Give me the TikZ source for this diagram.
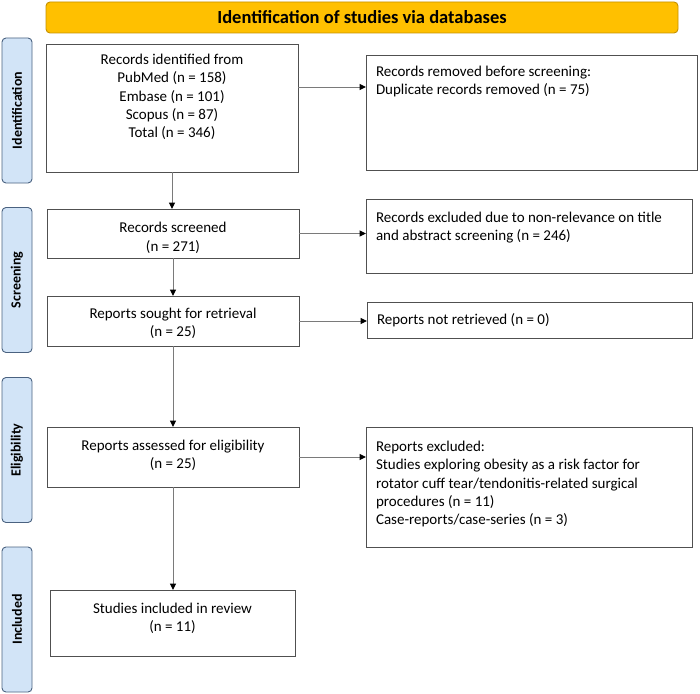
\documentclass[tikz,border=0pt]{standalone}
\usepackage{fontspec}
\setmainfont{Carlito}
\usetikzlibrary{arrows.meta}
\definecolor{banfill}{HTML}{FFC000}
\definecolor{bandraw}{HTML}{C49000}
\definecolor{sidefill}{HTML}{D2E4F7}
\definecolor{sidedraw}{HTML}{4A6280}
\definecolor{boxdraw}{HTML}{505050}
\definecolor{linecol}{HTML}{7A7A7A}
\newcommand{\bx}[4]{\parbox[b][#2][t]{#1}{\vspace*{#3}#4\par}}
\begin{document}
\begin{tikzpicture}[x=1pt,y=-1pt,
  every node/.style={font=\fontsize{15}{18.3}\selectfont},
  flowbox/.style={draw=boxdraw, line width=0.9pt, fill=white, inner sep=0pt, outer sep=0pt},
  sidebox/.style={draw=sidedraw, fill=sidefill, line width=0.9pt, rounded corners=4pt,
     minimum width=145pt, minimum height=30pt, inner sep=0pt,
     font=\fontsize{14}{17}\selectfont\bfseries},
  banner/.style={draw=bandraw, fill=banfill, line width=0.9pt, rounded corners=4pt,
     minimum width=632pt, minimum height=31pt, inner sep=0pt,
     font=\fontsize{18.5}{21}\selectfont\bfseries},
  arr/.style={draw=linecol, line width=1pt, -{Triangle[length=6.5pt,width=6pt,color=black]}}
]
\useasboundingbox (0,0) rectangle (700,693);

% banner
\node[banner] (ban) at (362,17.5) {Identification of studies via databases};

% side labels
\node[sidebox, rotate=90] (s1) at (17,110.5) {Identification};
\node[sidebox, rotate=90] (s2) at (17,280) {Screening};
\node[sidebox, rotate=90] (s3) at (17,450) {Eligibility};
\node[sidebox, rotate=90] (s4) at (17,619.5) {Included};

% left column
\node[flowbox, anchor=north west] (A) at (46,44)
  {\bx{252pt}{128pt}{7.7pt}{\centering\strut Records identified from\\PubMed (n = 158)\\Embase (n = 101)\\Scopus (n = 87)\\Total (n = 346)}};
\node[flowbox, anchor=north west] (C) at (47,209)
  {\bx{252pt}{49pt}{11pt}{\centering\strut Records screened\\(n = 271)}};
\node[flowbox, anchor=north west] (E) at (47,296)
  {\bx{252pt}{50pt}{9.7pt}{\centering\strut Reports sought for retrieval\\(n = 25)}};
\node[flowbox, anchor=north west] (G) at (47,427)
  {\bx{252pt}{60pt}{10.7pt}{\centering\strut Reports assessed for eligibility\\(n = 25)}};
\node[flowbox, anchor=north west] (I) at (50,590)
  {\bx{245pt}{66pt}{10.7pt}{\centering\strut Studies included in review\\(n = 11)}};

% right column
\node[flowbox, anchor=north west] (B) at (366,55)
  {\bx{331pt}{115pt}{8.7pt}{\raggedright\leftskip=10pt\strut Records removed before screening:\\Duplicate records removed (n = 75)}};
\node[flowbox, anchor=north west] (D) at (366,199)
  {\bx{326pt}{74pt}{10.7pt}{\raggedright\leftskip=10pt\strut Records excluded due to non-relevance on title\\and abstract screening (n = 246)}};
\node[flowbox, anchor=north west] (F) at (367,302)
  {\bx{325pt}{36pt}{9.7pt}{\raggedright\leftskip=10pt\strut Reports not retrieved (n = 0)}};
\node[flowbox, anchor=north west] (H) at (366,427)
  {\bx{326pt}{120pt}{11.7pt}{\raggedright\leftskip=10pt\strut Reports excluded:\\Studies exploring obesity as a risk factor for\\rotator cuff tear/tendonitis-related surgical\\procedures (n = 11)\\Case-reports/case-series (n = 3)}};

% vertical connectors
\draw[arr] (A.south) -- (A.south |- C.north);
\draw[arr] (C.south) -- (C.south |- E.north);
\draw[arr] (E.south) -- (E.south |- G.north);
\draw[arr] (G.south) -- (G.south |- I.north);

% horizontal connectors
\draw[arr] ([yshift=21pt]A.east) -- ([yshift=21pt]A.east -| B.west);
\draw[arr] (C.east) -- (C.east -| D.west);
\draw[arr] (E.east) -- (E.east -| F.west);
\draw[arr] (G.east) -- (G.east -| H.west);
\end{tikzpicture}
\end{document}
